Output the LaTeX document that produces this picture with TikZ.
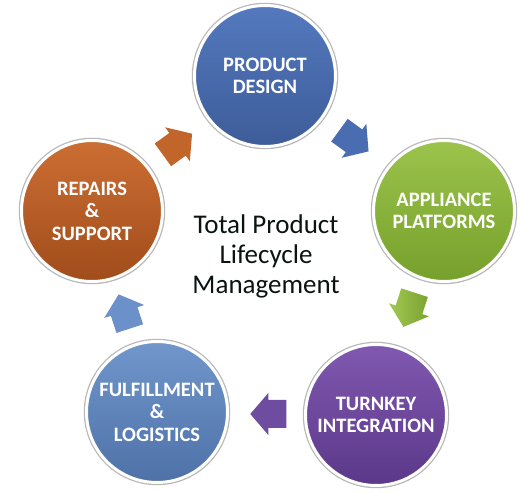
\documentclass[tikz,border=0pt]{standalone}
\usepackage{fontspec}
\setmainfont{Carlito}
\usetikzlibrary{shadows}
\definecolor{pdT}{HTML}{5479BE}
\definecolor{pdB}{HTML}{3D5C99}
\definecolor{apT}{HTML}{9CC44C}
\definecolor{apB}{HTML}{76A02C}
\definecolor{tiT}{HTML}{8058B0}
\definecolor{tiB}{HTML}{5B3889}
\definecolor{flT}{HTML}{7096CC}
\definecolor{flB}{HTML}{4E72A8}
\definecolor{rsT}{HTML}{CC6E33}
\definecolor{rsB}{HTML}{A04C1B}
\definecolor{arO}{HTML}{C2652B}
\definecolor{arB}{HTML}{4A6CB0}
\definecolor{arGL}{HTML}{A0C852}
\definecolor{arGR}{HTML}{7BA230}
\definecolor{arP}{HTML}{6E4DA0}
\definecolor{arL}{HTML}{6C90CA}
\definecolor{ctext}{HTML}{0A1212}
\tikzset{
  stage/.style={circle, minimum size=141pt, inner sep=0pt, draw=white, line width=3pt,
    preaction={draw=black!28, line width=5.5pt},
    drop shadow={shadow xshift=0.8pt, shadow yshift=-1.6pt, opacity=0.25},
    text=white, align=center, font=\fontsize{20.5}{22.5}\selectfont\bfseries},
  blockarrow/.pic={\path[pic actions] (-18,-14) -- (0,-14) -- (0,-21) -- (18,0) -- (0,21) -- (0,14) -- (-18,14) -- cycle;}
}
\begin{document}
\begin{tikzpicture}[x=1pt,y=1pt]
\useasboundingbox (0,0) rectangle (523,493);
% stages
\node[stage, top color=pdT, bottom color=pdB] (pd) at (265,417) {PRODUCT\\DESIGN};
\node[stage, top color=apT, bottom color=apB] (ap) at (444,282) {APPLIANCE\\PLATFORMS};
\node[stage, top color=tiT, bottom color=tiB] (ti) at (376,78) {TURNKEY\\INTEGRATION};
\node[stage, top color=flT, bottom color=flB] (fl) at (157,81) {FULFILLMENT\\\&\\LOGISTICS};
\node[stage, top color=rsT, bottom color=rsB] (rs) at (92,282) {REPAIRS\\\&\\SUPPORT};
% arrows
\pic[rotate=36, fill=arO] at (177.5,348.7) {blockarrow};
\pic[rotate=-36, fill=arB] at (354,352.2) {blockarrow};
\pic[rotate=-108, left color=arGL, right color=arGR] at (409,183.2) {blockarrow};
\pic[rotate=180, fill=arP] at (268.3,79) {blockarrow};
\pic[rotate=108, fill=arL] at (124.2,181.5) {blockarrow};
% centre text
\node[text=ctext, align=center, font=\fontsize{27}{30}\selectfont] (title) at (266,237) {Total Product\\Lifecycle\\Management};
\end{tikzpicture}
\end{document}
